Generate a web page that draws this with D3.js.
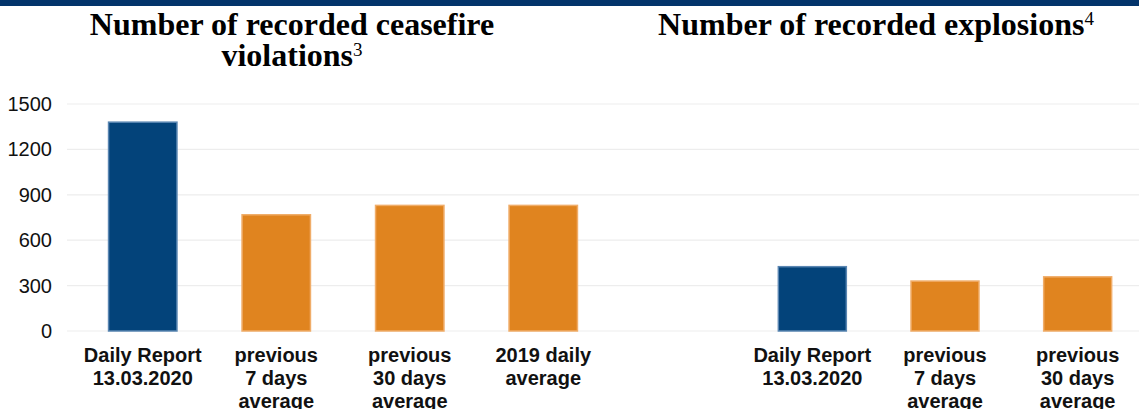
<!DOCTYPE html>
<html>
<head>
<meta charset="utf-8">
<script src="https://cdnjs.cloudflare.com/ajax/libs/d3/7.8.5/d3.min.js"></script>
<style>
  body { margin: 0; background: #fff; }
  svg { display: block; }
</style>
</head>
<body>
<svg width="1139" height="409"></svg>
<script>
// dados
const categoriasCessar = ["Daily Report 13.03.2020", "previous 7 days average", "previous 30 days average", "2019 daily average"];
const rotulosCessar = [["Daily Report", "13.03.2020"], ["previous", "7 days", "average"], ["previous", "30 days", "average"], ["2019 daily", "average"]];
const valoresCessar = [1380, 768, 830, 830];

const categoriasExplosoes = ["Daily Report 13.03.2020", "previous 7 days average", "previous 30 days average"];
const rotulosExplosoes = [["Daily Report", "13.03.2020"], ["previous", "7 days", "average"], ["previous", "30 days", "average"]];
const valoresExplosoes = [425, 330, 358];

const ticksY = [0, 300, 600, 900, 1200, 1500];

const svg = d3.select("svg");
const largura = 1139;

// faixa azul no topo
svg.append("rect")
    .attr("x", 0).attr("y", 0)
    .attr("width", largura).attr("height", 6)
    .attr("fill", "#03346b");

const yScale = d3.scaleLinear()
    .domain([0, 1500])
    .range([331, 104]);

// linhas de grade (atravessam os dois gráficos)
svg.append("g")
    .selectAll("line")
    .data(ticksY)
    .enter()
    .append("line")
    .attr("x1", 67)
    .attr("x2", largura)
    .attr("y1", d => yScale(d))
    .attr("y2", d => yScale(d))
    .attr("stroke", "#ededed")
    .attr("stroke-width", 1.2);

// eixo y
const eixoY = svg.append("g")
    .attr("transform", "translate(56,0)")
    .call(d3.axisLeft(yScale).tickValues(ticksY).tickFormat(d3.format("d")).tickSize(0).tickPadding(4));
eixoY.select(".domain").remove();
eixoY.selectAll("text")
    .attr("font-family", "Liberation Sans, Arial, sans-serif")
    .attr("font-size", 20)
    .attr("fill", "#111");

function desenharBarras(categorias, rotulos, valores, range) {
    const xScale = d3.scaleBand()
        .domain(categorias)
        .range(range)
        .paddingInner(0.48)
        .paddingOuter(0.24);

    svg.append("g")
        .selectAll("rect")
        .data(valores)
        .enter()
        .append("rect")
        .attr("x", (d, i) => xScale(categorias[i]) + 0.5)
        .attr("y", d => yScale(d))
        .attr("width", xScale.bandwidth() - 1)
        .attr("height", d => yScale(0) - yScale(d))
        .attr("fill", (d, i) => i === 0 ? "#03437a" : "#e0841f")
        .attr("stroke", (d, i) => i === 0 ? "#5a86b2" : "#f0ad69")
        .attr("stroke-width", 1.5);

    const grupoRotulos = svg.append("g")
        .selectAll("text")
        .data(rotulos)
        .enter()
        .append("text")
        .attr("text-anchor", "middle")
        .attr("font-family", "Liberation Sans, Arial, sans-serif")
        .attr("font-weight", "bold")
        .attr("font-size", 20)
        .attr("fill", "#111")
        .attr("transform", (d, i) => `translate(${xScale(categorias[i]) + xScale.bandwidth() / 2},362)`);

    grupoRotulos.selectAll("tspan")
        .data(d => d)
        .enter()
        .append("tspan")
        .attr("x", 0)
        .attr("y", (d, i) => i * 23)
        .text(d => d);
}

desenharBarras(categoriasCessar, rotulosCessar, valoresCessar, [76, 610]);
desenharBarras(categoriasExplosoes, rotulosExplosoes, valoresExplosoes, [746, 1144]);

// títulos
function titulo(linhas, sup, cx, y0) {
    const t = svg.append("text")
        .attr("text-anchor", "middle")
        .attr("font-family", "Liberation Serif, Times New Roman, serif")
        .attr("font-weight", "bold")
        .attr("font-size", 32)
        .attr("fill", "#000");
    linhas.forEach((l, i) => {
        t.append("tspan")
            .attr("x", cx)
            .attr("y", y0 + i * 31)
            .text(l);
    });
    t.append("tspan")
        .attr("font-weight", "normal")
        .attr("font-size", 19)
        .attr("dy", -10)
        .text(sup);
}

titulo(["Number of recorded ceasefire", "violations"], "3", 292, 35);
titulo(["Number of recorded explosions"], "4", 876, 35);
</script>
</body>
</html>
